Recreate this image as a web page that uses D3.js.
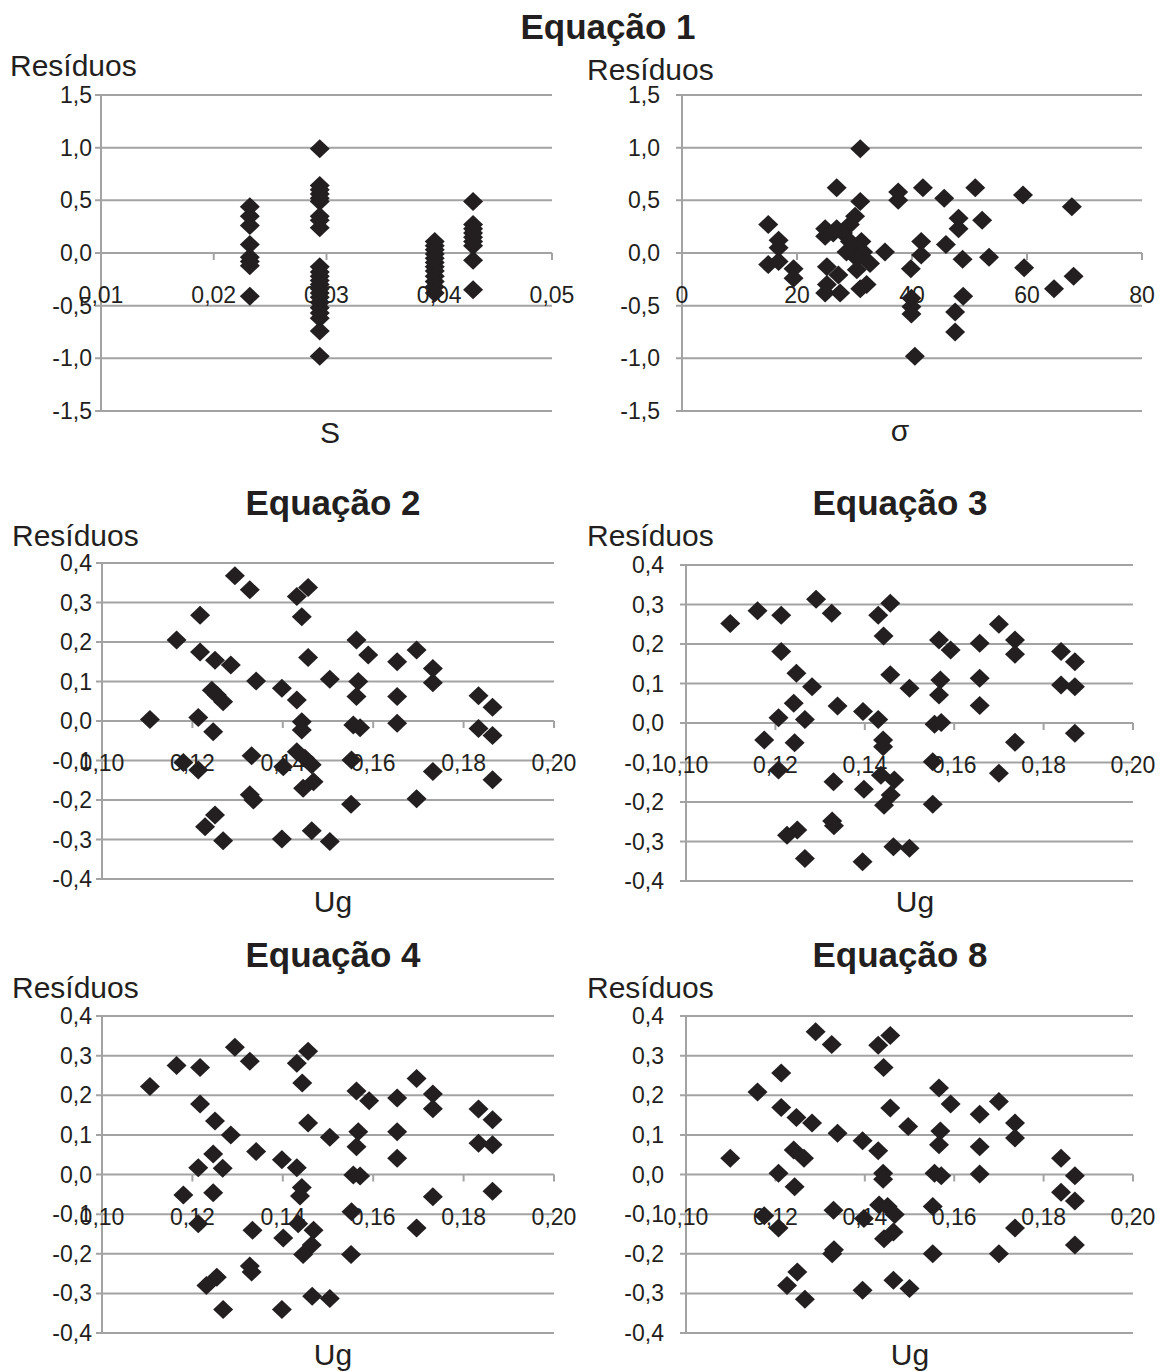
<!DOCTYPE html>
<html><head><meta charset="utf-8">
<script src="https://cdn.jsdelivr.net/npm/d3@7"></script>
<style>html,body{margin:0;padding:0;background:#fff;}svg{display:block;}</style>
</head><body>
<svg id="chart" width="1170" height="1371"></svg>
<script>
// ---------- DATA ----------
const titles = ["Equação 1", "Equação 2", "Equação 3", "Equação 4", "Equação 8"];
const yLabel = "Resíduos";
const eq1YTicks = [-1.5, -1.0, -0.5, 0.0, 0.5, 1.0, 1.5];
const resYTicks = [-0.4, -0.3, -0.2, -0.1, 0.0, 0.1, 0.2, 0.3, 0.4];
const sTicks = [0.01, 0.02, 0.03, 0.04, 0.05];
const sigmaTicks = [0, 20, 40, 60, 80];
const ugTicks = [0.10, 0.12, 0.14, 0.16, 0.18, 0.20];

// Equação 1 – residuals vs S
const eq1S = [
  [0.0232,0.44],[0.0232,0.35],[0.0232,0.26],[0.0232,0.08],[0.0232,-0.04],[0.0232,-0.08],[0.0232,-0.12],[0.0232,-0.41],
  [0.0294,0.99],[0.0294,0.64],[0.0294,0.60],[0.0294,0.56],[0.0294,0.52],[0.0294,0.49],[0.0294,0.35],[0.0294,0.31],[0.0294,0.24],
  [0.0294,-0.13],[0.0294,-0.18],[0.0294,-0.22],[0.0294,-0.26],[0.0294,-0.30],[0.0294,-0.34],[0.0294,-0.38],[0.0294,-0.42],
  [0.0294,-0.47],[0.0294,-0.52],[0.0294,-0.57],[0.0294,-0.62],[0.0294,-0.74],[0.0294,-0.98],
  [0.0396,0.11],[0.0396,0.07],[0.0396,0.03],[0.0396,-0.01],[0.0396,-0.05],[0.0396,-0.09],[0.0396,-0.13],[0.0396,-0.17],
  [0.0396,-0.22],[0.0396,-0.27],[0.0396,-0.32],[0.0396,-0.38],
  [0.0430,0.49],[0.0430,0.27],[0.0430,0.23],[0.0430,0.19],[0.0430,0.15],[0.0430,0.11],[0.0430,0.07],[0.0430,-0.07],[0.0430,-0.35]
];
// Equação 1 – residuals vs sigma
const eq1Sigma = [
  [15.0,0.27],[16.8,0.12],[16.8,0.05],[15.0,-0.11],[16.8,-0.08],[19.4,-0.15],[19.4,-0.24],[26.9,0.62],[31.0,0.99],[31.0,0.49],
  [30.1,0.35],[29.2,0.27],[24.9,0.23],[24.9,0.16],[26.9,0.23],[28.0,0.19],[26.3,0.19],[29.2,0.11],[31.2,0.11],[30.1,0.05],
  [28.6,0.01],[31.5,0.01],[30.4,-0.05],[32.7,-0.10],[35.3,0.01],[30.4,-0.16],[25.2,-0.13],[27.2,-0.21],[25.2,-0.30],[27.5,-0.38],
  [24.9,-0.38],[31.0,-0.34],[32.1,-0.30],[37.6,0.58],[37.6,0.50],[41.9,0.62],[45.6,0.52],[51.0,0.62],[59.3,0.55],[67.8,0.44],
  [48.1,0.33],[48.1,0.23],[52.2,0.31],[41.6,0.11],[41.6,-0.02],[45.9,0.08],[48.8,-0.06],[53.4,-0.04],[39.8,-0.15],[59.5,-0.14],
  [64.7,-0.34],[68.1,-0.22],[48.9,-0.41],[47.5,-0.56],[47.5,-0.75],[39.9,-0.43],[39.9,-0.51],[39.9,-0.58],[40.5,-0.98]
];
// Equação 2 – residuals vs Ug
const eq2Ug = [
  [0.1294,0.368],[0.1327,0.332],[0.1217,0.268],[0.1165,0.205],[0.1217,0.175],[0.1250,0.154],[0.1285,0.142],[0.1341,0.101],
  [0.1243,0.078],[0.1254,0.066],[0.1268,0.049],[0.1398,0.083],[0.1431,0.053],[0.1106,0.004],[0.1213,0.009],[0.1246,-0.027],
  [0.1442,-0.002],[0.1442,-0.023],[0.1180,-0.105],[0.1213,-0.124],[0.1331,-0.088],[0.1401,-0.116],[0.1431,-0.078],[0.1449,-0.094],
  [0.1464,-0.111],[0.1445,-0.170],[0.1468,-0.154],[0.1327,-0.187],[0.1335,-0.200],[0.1250,-0.238],[0.1228,-0.268],[0.1268,-0.303],
  [0.1398,-0.299],[0.1464,-0.278],[0.1431,0.315],[0.1456,0.338],[0.1442,0.264],[0.1456,0.161],[0.1504,0.106],[0.1504,-0.305],
  [0.1563,0.205],[0.1589,0.167],[0.1567,0.100],[0.1563,0.062],[0.1556,-0.010],[0.1571,-0.017],[0.1552,-0.099],[0.1551,-0.211],
  [0.1653,0.150],[0.1696,0.180],[0.1732,0.133],[0.1732,0.097],[0.1653,0.062],[0.1653,-0.006],[0.1732,-0.128],[0.1696,-0.197],
  [0.1833,0.064],[0.1864,0.035],[0.1833,-0.019],[0.1864,-0.037],[0.1864,-0.149]
];
// Equação 3 – residuals vs Ug
const eq3Ug = [
  [0.1099,0.252],[0.1160,0.284],[0.1213,0.273],[0.1291,0.313],[0.1326,0.278],[0.1430,0.273],[0.1457,0.303],[0.1442,0.220],
  [0.1213,0.181],[0.1247,0.126],[0.1282,0.092],[0.1457,0.122],[0.1500,0.088],[0.1241,0.050],[0.1207,0.013],[0.1266,0.009],
  [0.1339,0.043],[0.1396,0.029],[0.1430,0.009],[0.1175,-0.043],[0.1243,-0.050],[0.1441,-0.043],[0.1441,-0.060],[0.1207,-0.119],
  [0.1330,-0.149],[0.1398,-0.168],[0.1436,-0.132],[0.1466,-0.144],[0.1458,-0.182],[0.1443,-0.208],[0.1327,-0.248],[0.1331,-0.260],
  [0.1249,-0.271],[0.1226,-0.284],[0.1266,-0.343],[0.1395,-0.351],[0.1464,-0.313],[0.1500,-0.317],[0.1566,0.210],[0.1592,0.185],
  [0.1569,0.109],[0.1566,0.071],[0.1556,-0.003],[0.1571,0.001],[0.1552,-0.098],[0.1552,-0.206],[0.1657,0.202],[0.1700,0.250],
  [0.1736,0.210],[0.1736,0.174],[0.1657,0.113],[0.1657,0.044],[0.1736,-0.049],[0.1700,-0.127],[0.1839,0.181],[0.1870,0.155],
  [0.1839,0.096],[0.1870,0.092],[0.1870,-0.026]
];
// Equação 4 – residuals vs Ug
const eq4Ug = [
  [0.1106,0.222],[0.1165,0.275],[0.1217,0.270],[0.1294,0.321],[0.1327,0.286],[0.1431,0.281],[0.1456,0.311],[0.1443,0.231],
  [0.1217,0.178],[0.1250,0.135],[0.1285,0.100],[0.1456,0.130],[0.1504,0.094],[0.1246,0.052],[0.1213,0.017],[0.1267,0.016],
  [0.1341,0.058],[0.1398,0.037],[0.1431,0.017],[0.1180,-0.052],[0.1246,-0.046],[0.1442,-0.033],[0.1438,-0.054],[0.1213,-0.124],
  [0.1333,-0.141],[0.1401,-0.160],[0.1434,-0.124],[0.1468,-0.141],[0.1464,-0.178],[0.1445,-0.202],[0.1327,-0.231],[0.1331,-0.246],
  [0.1254,-0.259],[0.1231,-0.280],[0.1268,-0.341],[0.1398,-0.341],[0.1465,-0.307],[0.1504,-0.313],[0.1563,0.211],[0.1591,0.186],
  [0.1567,0.108],[0.1563,0.070],[0.1556,-0.001],[0.1571,-0.004],[0.1552,-0.094],[0.1551,-0.202],[0.1653,0.193],[0.1696,0.242],
  [0.1732,0.203],[0.1732,0.166],[0.1653,0.108],[0.1653,0.041],[0.1732,-0.056],[0.1696,-0.135],[0.1833,0.165],[0.1864,0.138],
  [0.1833,0.079],[0.1864,0.075],[0.1864,-0.042]
];
// Equação 8 – residuals vs Ug
const eq8Ug = [
  [0.1099,0.041],[0.1160,0.208],[0.1213,0.256],[0.1290,0.360],[0.1326,0.328],[0.1430,0.326],[0.1457,0.351],[0.1442,0.270],
  [0.1213,0.169],[0.1247,0.144],[0.1282,0.130],[0.1339,0.104],[0.1395,0.085],[0.1430,0.060],[0.1457,0.168],[0.1497,0.121],
  [0.1241,0.062],[0.1264,0.041],[0.1207,0.003],[0.1243,-0.031],[0.1441,0.003],[0.1441,-0.012],[0.1175,-0.104],[0.1207,-0.135],
  [0.1330,-0.090],[0.1398,-0.111],[0.1432,-0.077],[0.1451,-0.081],[0.1467,-0.101],[0.1464,-0.145],[0.1443,-0.162],[0.1327,-0.200],
  [0.1331,-0.190],[0.1249,-0.246],[0.1226,-0.280],[0.1266,-0.315],[0.1395,-0.292],[0.1464,-0.267],[0.1500,-0.288],[0.1566,0.218],
  [0.1592,0.178],[0.1569,0.110],[0.1566,0.075],[0.1556,0.003],[0.1571,-0.003],[0.1552,-0.081],[0.1552,-0.200],[0.1657,0.152],
  [0.1700,0.184],[0.1736,0.130],[0.1736,0.092],[0.1657,0.070],[0.1657,0.001],[0.1736,-0.135],[0.1700,-0.200],[0.1839,0.041],
  [0.1870,-0.003],[0.1839,-0.045],[0.1870,-0.067],[0.1870,-0.178]
];

// ---------- DRAWING ----------
const svg = d3.select("#chart");
svg.append("rect").attr("width",1170).attr("height",1371).attr("fill","#fff");
const FONT = "'Liberation Sans', Arial, sans-serif";
const GRID = "#a3a3a3";
const MARK = "#231f20";
const comma = f => v => f(v).replace(".", ",").replace("\u2212", "-");

function panel(o) {
  const x = d3.scaleLinear().domain(o.xDom).range([o.left, o.right]);
  const y = d3.scaleLinear().domain(o.yDom).range([o.bottom, o.top]);
  const g = svg.append("g");
  // horizontal gridlines + y ticks
  g.selectAll(".gl").data(o.yTicks).join("line")
    .attr("x1", o.left - 6).attr("x2", o.right)
    .attr("y1", d => y(d)).attr("y2", d => y(d))
    .attr("stroke", GRID).attr("stroke-width", 2);
  // y axis line
  g.append("line").attr("x1", o.left).attr("x2", o.left)
    .attr("y1", o.top).attr("y2", o.bottom).attr("stroke", GRID).attr("stroke-width", 2);
  // x axis ticks at y=0
  const y0 = y(0);
  g.selectAll(".xt").data(o.xTicks).join("line")
    .attr("x1", d => x(d)).attr("x2", d => x(d))
    .attr("y1", y0).attr("y2", y0 + 7)
    .attr("stroke", GRID).attr("stroke-width", 2);
  // y tick labels
  g.selectAll(".yl").data(o.yTicks).join("text")
    .attr("x", o.left - o.yLabOff).attr("y", d => y(d) + 8)
    .attr("text-anchor", "end").attr("font-family", FONT).attr("font-size", 23).attr("fill", "#231f20")
    .text(o.yFmt);
  // x tick labels
  g.selectAll(".xl").data(o.xTicks).join("text")
    .attr("x", d => x(d)).attr("y", y0 + 50)
    .attr("text-anchor", "middle").attr("font-family", FONT).attr("font-size", 23).attr("fill", "#231f20")
    .text(o.xFmt);
  // axis titles
  g.append("text").attr("x", o.resX).attr("y", o.resY).attr("font-family", FONT).attr("font-size", 30)
    .attr("fill", "#231f20").text(yLabel);
  g.append("text").attr("x", o.xtX).attr("y", o.xtY).attr("text-anchor", "middle")
    .attr("font-family", FONT).attr("font-size", 30).attr("fill", "#231f20").text(o.xTitle);
  // points
  g.selectAll(".pt").data(o.data).join("path")
    .attr("d", "M0,-9.5L10,0L0,9.5L-10,0Z")
    .attr("transform", d => `translate(${x(d[0])},${y(d[1])})`)
    .attr("fill", MARK);
}

function title(txt, cx, by) {
  svg.append("text").attr("x", cx).attr("y", by).attr("text-anchor", "middle")
    .attr("font-family", FONT).attr("font-weight", "bold").attr("font-size", 35)
    .attr("fill", "#231f20").text(txt);
}

const f1 = comma(d3.format(".1f")), f2 = comma(d3.format(".2f")), fi = d3.format("d");

title(titles[0], 608, 39);
panel({left:101,right:552,top:95,bottom:411,xDom:[0.01,0.05],yDom:[-1.5,1.5],xTicks:sTicks,yTicks:eq1YTicks,
  xFmt:f2,yFmt:f1,yLabOff:9,data:eq1S,xTitle:"S",xtX:330,xtY:443,resX:10,resY:76});
panel({left:682,right:1142,top:95,bottom:411,xDom:[0,80],yDom:[-1.5,1.5],xTicks:sigmaTicks,yTicks:eq1YTicks,
  xFmt:fi,yFmt:f1,yLabOff:22,data:eq1Sigma,xTitle:"σ",xtX:900,xtY:441,resX:587,resY:80});

title(titles[1], 333, 515);
panel({left:102,right:554,top:563,bottom:879,xDom:[0.10,0.20],yDom:[-0.4,0.4],xTicks:ugTicks,yTicks:resYTicks,
  xFmt:f2,yFmt:f1,yLabOff:10,data:eq2Ug,xTitle:"Ug",xtX:333,xtY:912,resX:12,resY:546});
title(titles[2], 900, 515);
panel({left:686,right:1133,top:565,bottom:881,xDom:[0.10,0.20],yDom:[-0.4,0.4],xTicks:ugTicks,yTicks:resYTicks,
  xFmt:f2,yFmt:f1,yLabOff:22,data:eq3Ug,xTitle:"Ug",xtX:915,xtY:912,resX:587,resY:546});

title(titles[3], 333, 967);
panel({left:102,right:554,top:1016,bottom:1333,xDom:[0.10,0.20],yDom:[-0.4,0.4],xTicks:ugTicks,yTicks:resYTicks,
  xFmt:f2,yFmt:f1,yLabOff:10,data:eq4Ug,xTitle:"Ug",xtX:333,xtY:1365,resX:12,resY:998});
title(titles[4], 900, 967);
panel({left:686,right:1133,top:1016,bottom:1333,xDom:[0.10,0.20],yDom:[-0.4,0.4],xTicks:ugTicks,yTicks:resYTicks,
  xFmt:f2,yFmt:f1,yLabOff:22,data:eq8Ug,xTitle:"Ug",xtX:910,xtY:1365,resX:587,resY:998});
</script>
</body></html>
